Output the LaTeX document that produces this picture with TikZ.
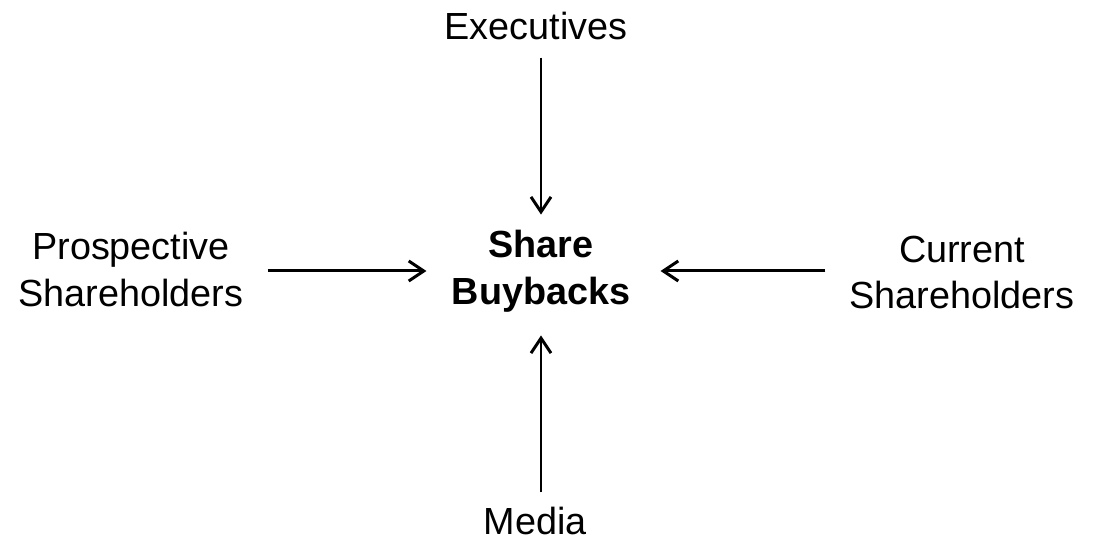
\documentclass[tikz,border=0pt]{standalone}
\usepackage{fontspec}
\setmainfont{Liberation Sans}
\usetikzlibrary{arrows.meta}

\begin{document}
\begin{tikzpicture}[
		party/.style={inner sep=0pt,align=center,font=\fontsize{21.5}{26.7}\selectfont},
		feed/.style={line width=1.7pt,-{Straight Barb[length=0.3cm,width=0.4cm,line width=1.7pt]}}]
		\useasboundingbox (0,0) rectangle (21.9,10.86);

		\node[party,font=\fontsize{21.5}{26.7}\selectfont\bfseries] (share) at (10.82,5.44) {Share\\Buybacks};

		\node[party,anchor=base] (exec) at (10.72,10.06) {Executives};
		\node[party,anchor=base] (media) at (10.70,0.16) {Media};
		\node[party] (pros) at (2.62,5.47) {Prospective\\Shareholders};
		\node[party] (cur) at (19.24,5.41) {Current\\Shareholders};

		\draw[feed,shorten <=0.34cm,shorten >=0.30cm] (exec.south -| share.north) -- (share.north);
		\draw[feed,shorten <=0.30cm,shorten >=0.46cm] (media.north -| share.south) -- (share.south);
		\draw[feed,shorten <=0.48cm,shorten >=0.50cm] (pros.east |- share.west) -- (share.west);
		\draw[feed,shorten <=0.48cm,shorten >=0.60cm] (cur.west |- share.east) -- (share.east);
	\end{tikzpicture}
\end{document}
